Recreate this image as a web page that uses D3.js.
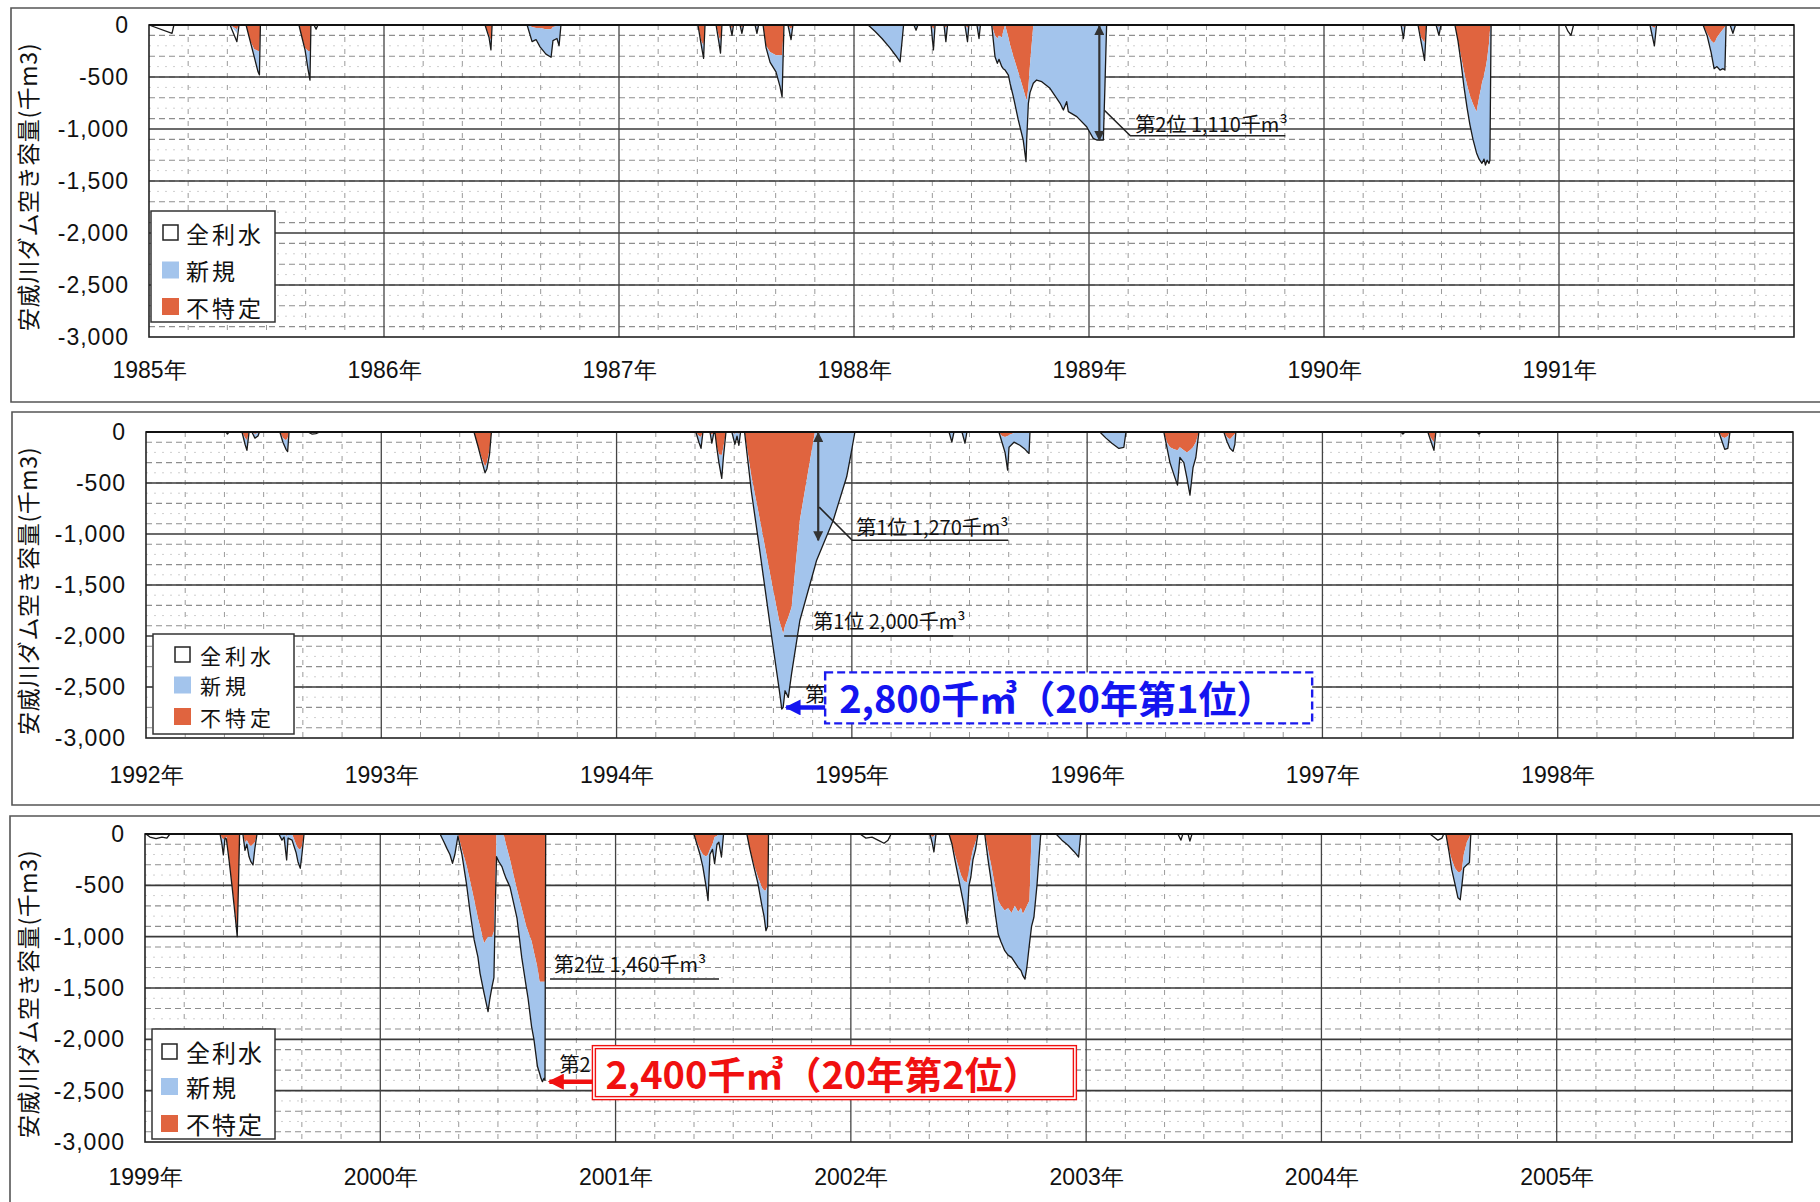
<!DOCTYPE html>
<html>

<head>
  <meta charset="utf-8">
  <title>安威川ダム空き容量</title>
  <style>
    body {
      margin: 0;
      background: #fff;
      font-family: "Noto Sans CJK JP", "Noto Sans", sans-serif;
    }

    .tick text {
      font-size: 23px;
      fill: #111;
    }

    .ylab .tick text {
      letter-spacing: 1px;
    }
  </style>
</head>

<body>
  <script src="https://cdn.jsdelivr.net/npm/d3@7"></script>
  <script>
    // ---- data: years as decimal, values in 千m3 (depth below full) ----
    // 不特定 = fu, 新規 = shin, 全利水 = zen
    var p1Year = [1985.000, 1985.098, 1985.106, 1985.345, 1985.374, 1985.383, 1985.413, 1985.430, 1985.447, 1985.464, 1985.470, 1985.474,
      1985.638, 1985.651, 1985.664, 1985.677, 1985.685, 1985.689, 1985.702, 1985.711, 1985.719,
      1986.430, 1986.447, 1986.455, 1986.460, 1986.609, 1986.630, 1986.647, 1986.664, 1986.689, 1986.711, 1986.719, 1986.736, 1986.745, 1986.753,
      1987.336, 1987.349, 1987.360, 1987.366, 1987.413, 1987.426, 1987.432, 1987.438, 1987.472, 1987.481, 1987.487, 1987.515, 1987.523, 1987.530,
      1987.579, 1987.587, 1987.594, 1987.613, 1987.626, 1987.643, 1987.668, 1987.685, 1987.694, 1987.702, 1987.719, 1987.732, 1987.740,
      1988.060, 1988.089, 1988.119, 1988.153, 1988.183, 1988.196, 1988.211,
      1988.255, 1988.264, 1988.272, 1988.328, 1988.338, 1988.345, 1988.383, 1988.391, 1988.398, 1988.472, 1988.483, 1988.489, 1988.523, 1988.532, 1988.538,
      1988.586, 1988.600, 1988.610, 1988.617, 1988.629, 1988.635, 1988.643, 1988.657, 1988.664, 1988.678, 1988.699, 1988.720, 1988.732, 1988.735,
      1988.742, 1988.749, 1988.763, 1988.777, 1988.799, 1988.834, 1988.877, 1988.891, 1988.905, 1988.912, 1988.948, 1988.990, 1989.018, 1989.033,
      1989.054, 1989.061, 1989.068, 1989.075,
      1990.328, 1990.338, 1990.345, 1990.400, 1990.413, 1990.428, 1990.436, 1990.477, 1990.489, 1990.498,
      1990.557, 1990.570, 1990.583, 1990.596, 1990.609, 1990.621, 1990.634, 1990.649, 1990.660, 1990.672, 1990.681, 1990.687, 1990.694, 1990.702, 1990.706, 1990.711,
      1991.026, 1991.038, 1991.051, 1991.062, 1991.387, 1991.406, 1991.415,
      1991.613, 1991.630, 1991.647, 1991.660, 1991.672, 1991.685, 1991.698, 1991.706, 1991.711, 1991.728, 1991.740, 1991.751];
    var p1Fu = [0, 0, 0, 0, 40, 0, 0, 150, 230, 250, 250, 0,
      0, 120, 220, 250, 250, 0, 0, 0, 0,
      0, 100, 150, 0, 0, 20, 30, 30, 40, 40, 20, 10, 10, 0,
      0, 150, 200, 0, 0, 120, 150, 0, 0, 40, 0, 0, 30, 0,
      0, 20, 0, 0, 200, 260, 290, 290, 290, 0, 0, 40, 0,
      0, 0, 0, 0, 0, 0, 0,
      0, 10, 0, 0, 40, 0, 0, 30, 0, 0, 30, 0, 0, 20, 0,
      0, 100, 130, 100, 120, 60, 0, 120, 191, 300, 455, 614, 710, 721,
      600, 377, 0, 0, 0, 0, 0, 0, 0, 0, 0, 0, 0, 0,
      0, 0, 0, 0,
      0, 20, 0, 0, 120, 170, 0, 0, 20, 0,
      0, 150, 300, 450, 580, 680, 760, 833, 700, 560, 480, 420, 330, 180, 60, 0,
      0, 0, 0, 0, 0, 30, 0,
      0, 80, 150, 176, 120, 80, 40, 20, 0, 0, 10, 0];
    var p1Shin = [0, 0, 0, 0, 40, 0, 0, 0, 70, 200, 230, 0,
      0, 0, 20, 180, 280, 0, 0, 0, 0,
      0, 20, 90, 0, 0, 140, 110, 180, 240, 270, 130, 120, 190, 0,
      0, 30, 120, 0, 0, 60, 120, 0, 0, 60, 0, 0, 50, 0,
      0, 60, 0, 0, 20, 100, 160, 300, 400, 0, 0, 100, 0,
      0, 60, 130, 220, 310, 355, 0,
      0, 40, 0, 0, 200, 0, 0, 130, 0, 0, 130, 0, 0, 110, 0,
      0, 205, 239, 230, 281, 360, 433, 361, 369, 389, 458, 492, 604, 379,
      153, 273, 560, 529, 545, 609, 753, 817, 737, 833, 881, 978, 1090, 1106,
      1106, 1106, 577, 0,
      0, 110, 0, 0, 40, 170, 0, 0, 80, 0,
      0, 0, 60, 150, 220, 280, 340, 397, 590, 770, 810, 926, 970, 1150, 1240, 0,
      0, 0, 0, 0, 0, 170, 0,
      0, 20, 110, 244, 280, 353, 380, 413, 0, 0, 70, 0];
    var p1Zen = [0, 80, 0, 0, 80, 0, 0, 0, 0, 0, 0, 0,
      0, 0, 0, 0, 0, 0, 0, 40, 0,
      0, 0, 0, 0, 0, 0, 0, 0, 0, 0, 0, 0, 0, 0,
      0, 0, 0, 0, 0, 0, 0, 0, 0, 0, 0, 0, 0, 0,
      0, 0, 0, 0, 0, 0, 0, 0, 0, 0, 0, 0, 0,
      0, 0, 0, 0, 0, 0, 0,
      0, 0, 0, 0, 0, 0, 0, 0, 0, 0, 0, 0, 0, 0, 0,
      0, 0, 0, 0, 0, 0, 0, 0, 0, 0, 0, 0, 0, 0,
      0, 0, 0, 0, 0, 0, 0, 0, 0, 0, 0, 0, 0, 0,
      0, 0, 0, 0,
      0, 0, 0, 0, 0, 0, 0, 0, 0, 0,
      0, 0, 0, 0, 0, 0, 0, 0, 0, 0, 0, 0, 0, 0, 0, 0,
      0, 60, 100, 0, 0, 0, 0,
      0, 0, 0, 0, 0, 0, 0, 0, 0, 0, 0, 0];

    var p2Year = [1992.340, 1992.346, 1992.353, 1992.408, 1992.421, 1992.429, 1992.438, 1992.450, 1992.463, 1992.476, 1992.482,
      1992.569, 1992.582, 1992.595, 1992.602, 1992.608, 1992.688, 1992.705, 1992.722, 1992.739,
      1993.394, 1993.411, 1993.428, 1993.441, 1993.449, 1993.460, 1993.468,
      1994.337, 1994.350, 1994.359, 1994.367, 1994.397, 1994.405, 1994.414, 1994.418, 1994.427, 1994.435, 1994.447, 1994.454, 1994.465,
      1994.490, 1994.503, 1994.512, 1994.520, 1994.527,
      1994.544, 1994.573, 1994.603, 1994.632, 1994.661, 1994.691, 1994.702, 1994.708, 1994.716, 1994.730, 1994.744, 1994.779, 1994.813,
      1994.843, 1994.850, 1994.886, 1994.921, 1994.978, 1994.996, 1995.013,
      1995.413, 1995.425, 1995.434, 1995.468, 1995.481, 1995.489,
      1995.625, 1995.638, 1995.651, 1995.662, 1995.668, 1995.689, 1995.714, 1995.736, 1995.753, 1995.757,
      1996.054, 1996.080, 1996.105, 1996.135, 1996.156, 1996.165,
      1996.326, 1996.339, 1996.352, 1996.369, 1996.384, 1996.394, 1996.411, 1996.424, 1996.437, 1996.450, 1996.462, 1996.475,
      1996.581, 1996.594, 1996.607, 1996.620, 1996.628, 1996.632,
      1997.334, 1997.342, 1997.351, 1997.448, 1997.461, 1997.474, 1997.482, 1997.657, 1997.665, 1997.674,
      1998.685, 1998.698, 1998.710, 1998.723, 1998.732];
    var p2Fu = [0, 0, 0, 0, 60, 80, 0, 0, 20, 10, 0,
      0, 60, 80, 60, 0, 0, 0, 0, 0,
      0, 140, 260, 340, 300, 180, 0,
      0, 40, 50, 0, 0, 30, 0, 0, 150, 220, 226, 150, 0,
      0, 20, 0, 20, 0,
      0, 433, 787, 1141, 1495, 1849, 1930, 1980, 1900, 1816, 1717, 865, 404,
      0, 0, 0, 0, 0, 0, 0,
      0, 0, 0, 0, 0, 0,
      0, 40, 50, 40, 30, 10, 0, 0, 0, 0,
      0, 0, 0, 0, 0, 0,
      0, 100, 150, 170, 180, 150, 180, 200, 180, 150, 100, 0,
      0, 50, 70, 40, 20, 0,
      0, 0, 0, 0, 60, 100, 0, 0, 0, 0,
      0, 50, 60, 40, 0];
    var p2Shin = [0, 0, 0, 0, 60, 100, 0, 0, 40, 30, 0,
      0, 40, 90, 133, 0, 0, 0, 0, 0,
      0, 0, 30, 60, 60, 40, 0,
      0, 60, 110, 0, 0, 80, 0, 0, 20, 80, 229, 100, 0,
      0, 100, 40, 110, 0,
      0, 153, 282, 412, 542, 671, 786, 720, 637, 786, 650, 983, 1162,
      1319, 1259, 1060, 865, 439, 220, 0,
      0, 100, 0, 0, 110, 0,
      0, 60, 150, 333, 120, 90, 130, 170, 210, 0,
      0, 60, 110, 161, 150, 0,
      0, 50, 150, 250, 341, 100, 120, 250, 439, 200, 150, 0,
      0, 40, 90, 150, 100, 0,
      0, 0, 0, 0, 30, 80, 0, 0, 0, 0,
      0, 40, 110, 120, 0];
    var p2Zen = [0, 20, 0, 0, 0, 0, 0, 0, 0, 0, 0,
      0, 0, 0, 0, 0, 0, 20, 15, 0,
      0, 0, 0, 0, 0, 0, 0,
      0, 0, 0, 0, 0, 0, 0, 0, 0, 0, 0, 0, 0,
      0, 0, 0, 0, 0,
      0, 0, 0, 0, 0, 0, 0, 0, 0, 0, 0, 0, 0,
      0, 0, 0, 0, 0, 0, 0,
      0, 0, 0, 0, 0, 0,
      0, 0, 0, 0, 0, 0, 0, 0, 0, 0,
      0, 0, 0, 0, 0, 0,
      0, 0, 0, 0, 0, 0, 0, 0, 0, 0, 0, 0,
      0, 0, 0, 0, 0, 0,
      0, 20, 0, 0, 0, 0, 0, 0, 20, 0,
      0, 0, 0, 0, 0];

    var p3Year = [1999.004, 1999.021, 1999.047, 1999.072, 1999.093, 1999.106,
      1999.319, 1999.327, 1999.333, 1999.340, 1999.346, 1999.357, 1999.370, 1999.382, 1999.392, 1999.397, 1999.402,
      1999.416, 1999.425, 1999.433, 1999.442, 1999.450, 1999.459, 1999.467, 1999.476,
      1999.569, 1999.582, 1999.591, 1999.602, 1999.608, 1999.625, 1999.642, 1999.650, 1999.660, 1999.667, 1999.676,
      2000.254, 2000.271, 2000.283, 2000.296, 2000.307, 2000.317, 2000.330,
      2000.347, 2000.366, 2000.381, 2000.399, 2000.415, 2000.424, 2000.441, 2000.458, 2000.466, 2000.475, 2000.483, 2000.490, 2000.494,
      2000.504, 2000.517, 2000.526, 2000.534, 2000.551, 2000.567, 2000.581, 2000.601, 2000.618, 2000.628, 2000.643, 2000.653, 2000.668,
      2000.677, 2000.683, 2000.689, 2000.696, 2000.700, 2000.703,
      2001.333, 2001.346, 2001.359, 2001.371, 2001.384, 2001.393, 2001.401, 2001.412, 2001.421, 2001.431, 2001.439, 2001.450, 2001.459,
      2001.558, 2001.571, 2001.588, 2001.605, 2001.622, 2001.631, 2001.639, 2001.646, 2001.650,
      2002.039, 2002.064, 2002.090, 2002.115, 2002.141, 2002.158, 2002.171,
      2002.336, 2002.345, 2002.353, 2002.362,
      2002.417, 2002.430, 2002.442, 2002.455, 2002.468, 2002.481, 2002.493, 2002.502, 2002.510, 2002.519, 2002.530, 2002.540,
      2002.569, 2002.583, 2002.598, 2002.612, 2002.626, 2002.638, 2002.654, 2002.668, 2002.683, 2002.697, 2002.711, 2002.723, 2002.731,
      2002.740, 2002.748, 2002.759, 2002.768, 2002.778, 2002.791, 2002.806, 2002.808,
      2002.872, 2002.897, 2002.923, 2002.948, 2002.968, 2002.977,
      2003.390, 2003.403, 2003.411, 2003.433, 2003.441, 2003.450,
      2004.461, 2004.478, 2004.495, 2004.512, 2004.520,
      2004.529, 2004.542, 2004.554, 2004.567, 2004.580, 2004.590, 2004.597, 2004.605, 2004.618, 2004.629, 2004.635];
    var p3Fu = [0, 0, 0, 0, 0, 0,
      0, 40, 50, 40, 30, 250, 500, 750, 960, 500, 0,
      0, 80, 60, 100, 120, 100, 80, 0,
      0, 10, 0, 20, 0, 0, 100, 140, 150, 120, 0,
      0, 0, 0, 0, 0, 0, 0,
      150, 300, 450, 640, 820, 900, 1064, 1000, 1000, 1000, 950, 400, 0,
      0, 0, 20, 100, 247, 406, 540, 724, 880, 950, 1042, 1150, 1300,
      1438, 1440, 1440, 1440, 1440, 0,
      0, 80, 150, 200, 220, 200, 150, 100, 30, 20, 0, 0, 0,
      0, 150, 300, 420, 520, 550, 550, 500, 0,
      0, 0, 0, 0, 0, 0, 0,
      0, 30, 20, 0,
      0, 100, 200, 300, 400, 460, 470, 350, 250, 150, 80, 0,
      0, 150, 321, 500, 648, 700, 745, 720, 770, 700, 760, 720, 780,
      740, 700, 650, 0, 0, 0, 0, 0,
      0, 0, 0, 0, 0, 0,
      0, 0, 0, 0, 0, 0,
      0, 0, 0, 0, 0,
      0, 150, 250, 330, 370, 370, 350, 200, 80, 30, 0];
    var p3Shin = [0, 0, 0, 0, 0, 0,
      0, 60, 153, 0, 20, 0, 10, 20, 40, 20, 0,
      0, 80, 40, 120, 150, 202, 60, 0,
      0, 50, 30, 233, 40, 60, 80, 130, 184, 80, 0,
      0, 80, 140, 200, 285, 200, 20,
      50, 180, 300, 392, 380, 457, 486, 730, 600, 487, 450, 200, 221,
      270, 318, 360, 330, 266, 269, 280, 476, 574, 650, 834, 850, 965,
      892, 940, 972, 940, 960, 0,
      0, 20, 50, 120, 280, 448, 50, 50, 259, 80, 80, 224, 0,
      0, 0, 20, 60, 180, 250, 392, 400, 0,
      0, 0, 0, 0, 0, 0, 0,
      0, 50, 155, 0,
      0, 0, 50, 100, 150, 240, 406, 150, 169, 100, 70, 0,
      0, 100, 163, 250, 326, 350, 392, 460, 432, 550, 540, 610, 600,
      674, 600, 422, 900, 811, 500, 28, 0,
      0, 60, 110, 170, 224, 0,
      0, 0, 0, 0, 0, 0,
      0, 0, 0, 0, 0,
      0, 20, 100, 150, 250, 270, 150, 130, 220, 250, 0];
    var p3Zen = [0, 30, 45, 30, 40, 0,
      0, 0, 0, 0, 0, 0, 0, 0, 0, 0, 0,
      0, 0, 0, 0, 0, 0, 0, 0,
      0, 0, 0, 0, 0, 0, 0, 0, 0, 0, 0,
      0, 0, 0, 0, 0, 0, 0,
      0, 0, 0, 0, 0, 0, 0, 0, 0, 0, 0, 0, 0,
      0, 0, 0, 0, 0, 0, 0, 0, 0, 0, 0, 0, 0,
      0, 0, 0, 0, 0, 0,
      0, 0, 0, 0, 0, 0, 0, 0, 0, 0, 0, 0, 0,
      0, 0, 0, 0, 0, 0, 0, 0, 0,
      0, 40, 30, 60, 90, 60, 0,
      0, 0, 0, 0,
      0, 0, 0, 0, 0, 0, 0, 0, 0, 0, 0, 0,
      0, 0, 0, 0, 0, 0, 0, 0, 0, 0, 0, 0, 0,
      0, 0, 0, 0, 0, 0, 0, 0,
      0, 0, 0, 0, 0, 0,
      0, 60, 0, 0, 70, 0,
      0, 30, 60, 40, 0,
      0, 0, 0, 0, 0, 0, 0, 0, 0, 0, 0];

    var yTicks = [0, -500, -1000, -1500, -2000, -2500, -3000];
    var legendNames = ["全利水", "新規", "不特定"];
    var yTitle = "安威川ダム空き容量(千m3)";

    var colFu = "#e0643f", colShin = "#a3c4ec";

    // layout of the three scanned panels
    var panels = [
      { year0: 1985, t: p1Year, fu: p1Fu, shin: p1Shin, zen: p1Zen,
        left: 149, right: 1794, top: 25, bottom: 337, frameTop: 8, frameBottom: 402, frameLeft: 11, xPad: 25,
        lg: { x: 151, y: 211, w: 124, h: 111, rows: [232.5, 270, 306.5], mx: 162, tx: 186, fs: 23, ls: 3 } },
      { year0: 1992, t: p2Year, fu: p2Fu, shin: p2Shin, zen: p2Zen,
        left: 146, right: 1793, top: 432, bottom: 738, frameTop: 412, frameBottom: 805, frameLeft: 12, xPad: 29,
        lg: { x: 153, y: 634, w: 141, h: 100, rows: [654.5, 685, 716.5], mx: 174, tx: 200, fs: 21, ls: 4 } },
      { year0: 1999, t: p3Year, fu: p3Fu, shin: p3Shin, zen: p3Zen,
        left: 145, right: 1792, top: 834, bottom: 1142, frameTop: 816, frameBottom: 1230, frameLeft: 10, xPad: 27,
        lg: { x: 152, y: 1029, w: 123, h: 110, rows: [1051.5, 1086.5, 1123.5], mx: 161, tx: 186, fs: 24, ls: 2 } }
    ];

    var svg = d3.select("body").append("svg")
      .attr("width", 1820)
      .attr("height", 1202)
      .style("display", "block");

    var defs = svg.append("defs");
    function marker(id, color, w, h) {
      defs.append("marker")
        .attr("id", id)
        .attr("viewBox", "0 0 10 10")
        .attr("refX", 9).attr("refY", 5)
        .attr("markerUnits", "userSpaceOnUse")
        .attr("markerWidth", w).attr("markerHeight", h)
        .attr("orient", "auto-start-reverse")
        .append("path")
        .attr("d", "M0,0L10,5L0,10z")
        .attr("fill", color);
    }
    marker("arrK", "#333", 12, 10);
    marker("arrB", "#1414f0", 16, 16);
    marker("arrR", "#f01010", 16, 16);

    var scales = panels.map(function (p) {
      var x = d3.scaleLinear().domain([p.year0, p.year0 + 7]).range([p.left, p.right]);
      var y = d3.scaleLinear().domain([-3000, 0]).range([p.bottom, p.top]);
      drawPanel(p, x, y);
      return { x: x, y: y };
    });

    function drawPanel(p, x, y) {
      var g = svg.append("g");

      // outer frame of the scanned sheet
      g.append("path")
        .attr("d", "M1830," + p.frameTop + "H" + p.frameLeft + "V" + p.frameBottom + "H1830")
        .attr("fill", "none")
        .attr("stroke", "#555")
        .attr("stroke-width", 1.6);

      // faint dotted lines every 100
      var faint = d3.range(-200, -3000, -200).filter(function (v) { return v % 500 != 0; });
      g.selectAll(".faint").data(faint).join("line")
        .attr("x1", p.left).attr("x2", p.right)
        .attr("y1", d => y(d)).attr("y2", d => y(d))
        .attr("stroke", "#cfcfcf").attr("stroke-width", 1)
        .attr("stroke-dasharray", "2,6");

      // dashed lines
      var dashed = d3.range(-100, -3000, -200);
      g.selectAll(".dh").data(dashed).join("line")
        .attr("x1", p.left).attr("x2", p.right)
        .attr("y1", d => y(d)).attr("y2", d => y(d))
        .attr("stroke", "#8e8e8e").attr("stroke-width", 1.1)
        .attr("stroke-dasharray", "6,4");

      var months = [];
      for (var yr = 0; yr < 7; yr++) {
        [2, 4, 6, 8, 10].forEach(function (m) { months.push(p.year0 + yr + m / 12); });
      }
      g.selectAll(".dv").data(months).join("line")
        .attr("x1", d => x(d)).attr("x2", d => x(d))
        .attr("y1", p.top).attr("y2", p.bottom)
        .attr("stroke", "#9a9a9a").attr("stroke-width", 1)
        .attr("stroke-dasharray", "5,7");

      // solid grid
      g.selectAll(".hs").data(yTicks.slice(1, -1)).join("line")
        .attr("x1", p.left).attr("x2", p.right)
        .attr("y1", d => y(d)).attr("y2", d => y(d))
        .attr("stroke", "#3a3a3a").attr("stroke-width", 1.6);
      g.selectAll(".vs").data(d3.range(p.year0 + 1, p.year0 + 7)).join("line")
        .attr("x1", d => x(d)).attr("x2", d => x(d))
        .attr("y1", p.top).attr("y2", p.bottom)
        .attr("stroke", "#444").attr("stroke-width", 1.3);

      // stacked areas (negative = empty capacity)
      var rows = p.t.map(function (t, i) {
        return { t: t, fu: -p.fu[i], shin: -p.shin[i], zen: -p.zen[i] };
      });
      var series = d3.stack().keys(["fu", "shin", "zen"])(rows);
      var area = d3.area()
        .x(d => x(d.data.t))
        .y0(d => y(d[0]))
        .y1(d => y(d[1]));
      var fills = { fu: colFu, shin: colShin, zen: "#fff" };
      g.selectAll(".layer").data(series).join("path")
        .attr("d", area)
        .attr("fill", d => fills[d.key]);

      var outline = d3.line()
        .x(d => x(d.t))
        .y(d => y(d.fu + d.shin + d.zen));
      g.append("path")
        .datum(rows)
        .attr("d", outline)
        .attr("fill", "none")
        .attr("stroke", "#1a1a1a")
        .attr("stroke-width", 1.3)
        .attr("stroke-linejoin", "round");

      // plot border
      g.append("rect")
        .attr("x", p.left).attr("y", p.top)
        .attr("width", p.right - p.left).attr("height", p.bottom - p.top)
        .attr("fill", "none")
        .attr("stroke", "#222")
        .attr("stroke-width", 1.6);
      g.append("line")
        .attr("x1", p.left).attr("x2", p.right)
        .attr("y1", y(0)).attr("y2", y(0))
        .attr("stroke", "#111").attr("stroke-width", 2.2);

      // axes
      var yAxis = d3.axisLeft(y)
        .tickValues(yTicks)
        .tickSize(0)
        .tickPadding(20)
        .tickFormat(d => d == 0 ? "0" : "-" + d3.format(",")(-d));
      g.append("g")
        .attr("class", "ylab")
        .attr("transform", "translate(" + p.left + ",0)")
        .call(yAxis)
        .call(s => s.select(".domain").remove());

      var xAxis = d3.axisBottom(x)
        .tickValues(d3.range(p.year0, p.year0 + 7))
        .tickSize(0)
        .tickPadding(p.xPad)
        .tickFormat(d => d + "年");
      g.append("g")
        .attr("transform", "translate(0," + p.bottom + ")")
        .call(xAxis)
        .call(s => s.select(".domain").remove());

      g.append("text")
        .attr("transform", "translate(27," + ((p.top + p.bottom) / 2 + 6) + ") rotate(-90)")
        .attr("text-anchor", "middle")
        .attr("dominant-baseline", "central")
        .attr("font-size", 23)
        .attr("letter-spacing", 0.6)
        .attr("fill", "#111")
        .text(yTitle);

      // legend
      var lg = p.lg;
      var leg = g.append("g");
      leg.append("rect")
        .attr("x", lg.x).attr("y", lg.y)
        .attr("width", lg.w).attr("height", lg.h)
        .attr("fill", "#fff")
        .attr("stroke", "#333").attr("stroke-width", 1.5);
      var legFill = ["#fff", colShin, colFu];
      legendNames.forEach(function (name, i) {
        leg.append("rect")
          .attr("x", i == 0 ? lg.mx + 1 : lg.mx).attr("y", lg.rows[i] - (i == 0 ? 7.5 : 8.5))
          .attr("width", i == 0 ? 15 : 17).attr("height", i == 0 ? 15 : 17)
          .attr("fill", legFill[i])
          .attr("stroke", i == 0 ? "#222" : "none")
          .attr("stroke-width", 1.5);
        leg.append("text")
          .attr("x", lg.tx).attr("y", lg.rows[i])
          .attr("dominant-baseline", "central")
          .attr("font-size", lg.fs)
          .attr("letter-spacing", lg.ls)
          .attr("fill", "#111")
          .text(name);
      });
    }

    // ---- annotations ----
    function smallLabel(g, x0, yb, txt) {
      g.append("text")
        .attr("x", x0).attr("y", yb)
        .attr("font-size", 20)
        .attr("fill", "#111")
        .text(txt);
    }
    function ink(g, pts, w) {
      g.append("path")
        .attr("d", d3.line()(pts))
        .attr("fill", "none")
        .attr("stroke", "#222")
        .attr("stroke-width", w || 1.6);
    }
    function doubleArrow(g, x0, y0, y1) {
      g.append("line")
        .attr("x1", x0).attr("x2", x0)
        .attr("y1", y0).attr("y2", y1)
        .attr("stroke", "#333").attr("stroke-width", 2.2)
        .attr("marker-start", "url(#arrK)")
        .attr("marker-end", "url(#arrK)");
    }
    // big boxed label (㎥ = m with small 3 above)
    function bigLabel(g, x0, yb, value, rank, color) {
      g.append("text")
        .attr("x", x0).attr("y", yb)
        .attr("font-size", 38).attr("font-weight", "bold")
        .attr("fill", color)
        .text(value + "千㎥（" + rank + "）");
    }

    var ann = svg.append("g");

    // panel 1 : 1988-89 drought
    (function () {
      var s = scales[0];
      var ax = s.x(1989.044);
      doubleArrow(ann, ax, s.y(0) + 1, s.y(-1106));
      ink(ann, [[ax + 5, s.y(-820)], [ax + 31, s.y(-1065)], [ax + 186, s.y(-1065)]]);
      smallLabel(ann, ax + 36, s.y(-1065) - 4, "第2位 1,110千m³");
    })();

    // panel 2 : 1994 drought
    (function () {
      var s = scales[1];
      var ax = s.x(1994.857);
      doubleArrow(ann, ax, s.y(0) + 1, s.y(-1062));
      ink(ann, [[ax + 1, s.y(-737)], [ax + 34, s.y(-1062)], [ax + 190, s.y(-1062)]]);
      smallLabel(ann, ax + 38, s.y(-1062) - 5, "第1位 1,270千m³");

      var rx = s.x(1994.708);
      ink(ann, [[rx + 1, s.y(-2000)], [rx + 170, s.y(-2000)]]);
      smallLabel(ann, rx + 30, s.y(-2000) - 7, "第1位 2,000千m³");

      var tx = s.x(1994.708), ty = s.y(-2700);
      smallLabel(ann, tx + 22, ty - 5, "第");
      ann.append("rect")
        .attr("x", tx + 42).attr("y", ty - 35)
        .attr("width", 487).attr("height", 51)
        .attr("fill", "#fff")
        .attr("stroke", "#1a1aee").attr("stroke-width", 2.4)
        .attr("stroke-dasharray", "8,4");
      bigLabel(ann, tx + 56, ty + 6, "2,800", "20年第1位", "#1414f0");
      ann.append("line")
        .attr("x1", tx + 42).attr("x2", tx + 3)
        .attr("y1", ty).attr("y2", ty)
        .attr("stroke", "#1414f0").attr("stroke-width", 4.5)
        .attr("marker-end", "url(#arrB)");
    })();

    // panel 3 : 2000 drought
    (function () {
      var s = scales[2];
      var ux = s.x(2000.700);
      ink(ann, [[ux + 5, s.y(-1412)], [ux + 174, s.y(-1412)]]);
      smallLabel(ann, ux + 9, s.y(-1412) - 7, "第2位 1,460千m³");

      var tx = s.x(2000.689), ty = s.y(-2412);
      smallLabel(ann, tx + 17, ty - 10, "第2");
      ann.append("rect")
        .attr("x", tx + 50).attr("y", ty - 36)
        .attr("width", 484).attr("height", 54)
        .attr("fill", "#fff")
        .attr("stroke", "#f01010").attr("stroke-width", 1.4);
      ann.append("rect")
        .attr("x", tx + 53).attr("y", ty - 33)
        .attr("width", 478).attr("height", 48)
        .attr("fill", "none")
        .attr("stroke", "#f01010").attr("stroke-width", 1.4);
      bigLabel(ann, tx + 63, ty + 7, "2,400", "20年第2位", "#f01010");
      ann.append("line")
        .attr("x1", tx + 50).attr("x2", tx + 7)
        .attr("y1", ty).attr("y2", ty)
        .attr("stroke", "#f01010").attr("stroke-width", 4.5)
        .attr("marker-end", "url(#arrR)");
    })();
  </script>
</body>

</html>
